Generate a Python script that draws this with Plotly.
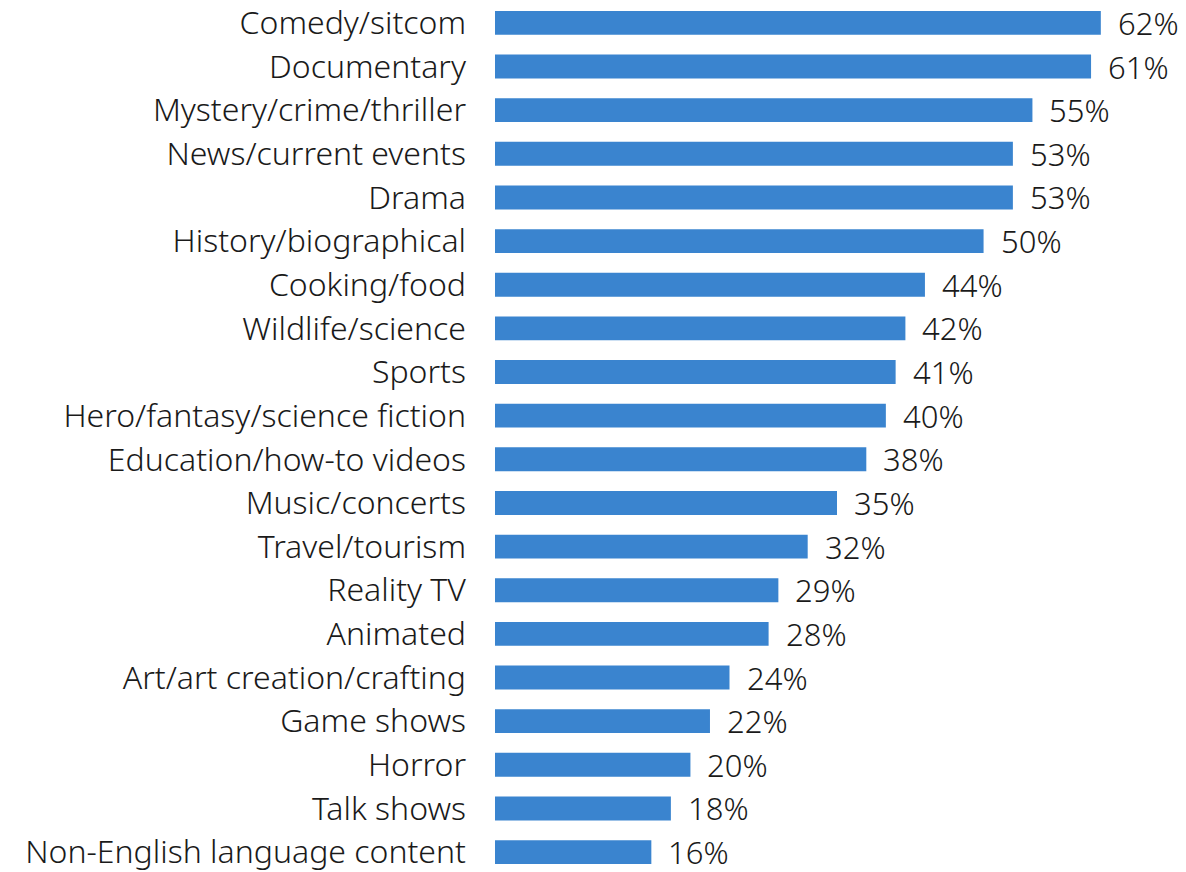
import plotly.graph_objects as go

# Share of respondents who watch each genre (top to bottom)
genres = [
    "Comedy/sitcom", "Documentary", "Mystery/crime/thriller", "News/current events",
    "Drama", "History/biographical", "Cooking/food", "Wildlife/science", "Sports",
    "Hero/fantasy/science fiction", "Education/how-to videos", "Music/concerts",
    "Travel/tourism", "Reality TV", "Animated", "Art/art creation/crafting",
    "Game shows", "Horror", "Talk shows", "Non-English language content",
]
shares = [62, 61, 55, 53, 53, 50, 44, 42, 41, 40, 38, 35, 32, 29, 28, 24, 22, 20, 18, 16]

# Plotly stacks categories from the bottom, so feed them in reverse
cats = genres[::-1]
vals = shares[::-1]

FONT = "'Noto Sans', 'Open Sans', sans-serif"
TEXT_COLOR = "#1a1a1a"
BAR_COLOR = "#3A84CF"

fig = go.Figure(
    go.Bar(
        x=vals,
        y=cats,
        orientation="h",
        marker=dict(color=BAR_COLOR, line=dict(width=0)),
        hoverinfo="skip",
    )
)

# value labels just past the end of each bar
for c, v in zip(cats, vals):
    fig.add_annotation(
        x=v, y=c, text=f"{v}%", showarrow=False,
        xanchor="left", yanchor="middle", xshift=15,
        font=dict(family=FONT, size=31, color=TEXT_COLOR, weight=300),
    )

fig.update_layout(
    width=1186,
    height=872,
    margin=dict(l=495, r=7, t=0, b=0),
    paper_bgcolor="white",
    plot_bgcolor="white",
    bargap=0.453,
    showlegend=False,
    xaxis=dict(range=[0, 70], visible=False),
    yaxis=dict(
        range=[-0.3645, 19.501],
        showgrid=False,
        zeroline=False,
        showline=False,
        ticks="",
        ticklabelstandoff=28,
        tickfont=dict(family=FONT, size=32, color=TEXT_COLOR, weight=300),
    ),
)

fig.write_html("out.html")
